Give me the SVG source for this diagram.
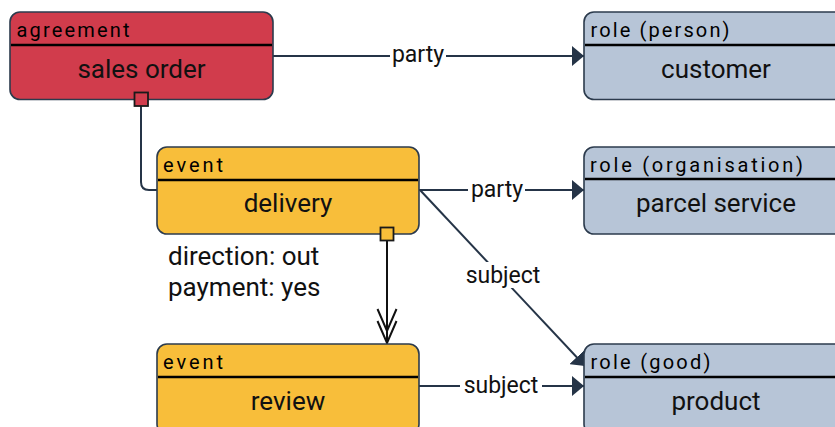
<svg xmlns="http://www.w3.org/2000/svg" width="835" height="427" viewBox="0 0 835 427">
  <style>
    .box { stroke: #2c3b4d; stroke-width: 1.6; }
    .agreement { fill: #d13c4c; }
    .event { fill: #f8be3a; }
    .role { fill: #b7c5d7; }
    .rule { stroke: #000; stroke-width: 2.5; }
    .kind { font-family: Roboto, "Liberation Sans", sans-serif; font-size: 20px; fill: #000; }
    .name { font-family: Roboto, "Liberation Sans", sans-serif; font-size: 26px; fill: #111; text-anchor: middle; }
    .attr { font-family: Roboto, "Liberation Sans", sans-serif; font-size: 26px; fill: #111; }
    .edge { stroke: #253447; stroke-width: 2; fill: none; }
    .elabel { font-family: Roboto, "Liberation Sans", sans-serif; font-size: 23px; fill: #111; text-anchor: middle; }
    .lblbg { fill: #fff; }
    .port { stroke: #1a1a1a; stroke-width: 1.8; }
  </style>
  <defs>
    <marker id="arrow" viewBox="0 0 12 20" refX="12" refY="10" markerWidth="12" markerHeight="20" markerUnits="userSpaceOnUse" orient="auto">
      <path d="M0,0 L12,10 L0,20 Z" fill="#253447"/>
    </marker>
  </defs>

  <!-- connectors -->
  <g id="connectors">
    <!-- sales order -> delivery (composition) -->
    <path class="edge" d="M141,106 V182 Q141,190 149,190 H157"/>
    <!-- sales order -> customer -->
    <line class="edge" x1="273" y1="56" x2="584" y2="56" marker-end="url(#arrow)"/>
    <!-- delivery -> parcel service -->
    <line class="edge" x1="419" y1="190" x2="584" y2="190" marker-end="url(#arrow)"/>
    <!-- delivery -> product -->
    <line class="edge" x1="420" y1="190" x2="585" y2="366" marker-end="url(#arrow)"/>
    <!-- review -> product -->
    <line class="edge" x1="419" y1="386" x2="584" y2="386" marker-end="url(#arrow)"/>
    <!-- delivery -> review -->
    <g stroke="#111" stroke-width="2" fill="none">
      <line x1="387" y1="240" x2="387" y2="343"/>
      <polyline points="377.5,309 387,331 396.5,309"/>
      <polyline points="377.5,321 387,343 396.5,321"/>
    </g>

    <!-- edge labels -->
    <rect class="lblbg" x="390" y="44" width="56" height="24"/>
    <text class="elabel" x="418" y="62">party</text>
    <rect class="lblbg" x="468" y="178" width="57" height="24"/>
    <text class="elabel" x="497" y="196.5">party</text>
    <rect class="lblbg" x="462" y="262" width="82" height="26"/>
    <text class="elabel" x="503" y="283">subject</text>
    <rect class="lblbg" x="460" y="374" width="82" height="24"/>
    <text class="elabel" x="501" y="392.5">subject</text>
  </g>

  <!-- nodes -->
  <g id="sales-order">
    <rect class="box agreement" x="10" y="12" width="263" height="87.5" rx="10"/>
    <line class="rule" x1="11" y1="45" x2="272" y2="45"/>
    <text class="kind" x="16.5" y="37" textLength="113" lengthAdjust="spacing">agreement</text>
    <text class="name" x="141.5" y="78">sales order</text>
    <rect class="port agreement" x="134.5" y="92.5" width="13.5" height="13.5"/>
  </g>

  <g id="customer">
    <rect class="box role" x="584" y="12" width="263" height="87.5" rx="10"/>
    <line class="rule" x1="585" y1="45" x2="846" y2="45"/>
    <text class="kind" x="590.5" y="37" textLength="139" lengthAdjust="spacing">role (person)</text>
    <text class="name" x="716" y="78">customer</text>
  </g>

  <g id="delivery">
    <rect class="box event" x="157" y="147" width="262" height="87" rx="10"/>
    <line class="rule" x1="158" y1="180" x2="418" y2="180"/>
    <text class="kind" x="163" y="172" textLength="60" lengthAdjust="spacing">event</text>
    <text class="name" x="288" y="212">delivery</text>
    <rect class="port event" x="380.5" y="227.5" width="13" height="13"/>
    <text class="attr" x="168" y="265">direction: out</text>
    <text class="attr" x="168" y="296">payment: yes</text>
  </g>

  <g id="parcel-service">
    <rect class="box role" x="584" y="147" width="263" height="87" rx="10"/>
    <line class="rule" x1="585" y1="179" x2="846" y2="179"/>
    <text class="kind" x="590" y="171.5" textLength="213" lengthAdjust="spacing">role (organisation)</text>
    <text class="name" x="716" y="212">parcel service</text>
  </g>

  <g id="review">
    <rect class="box event" x="157" y="344" width="262" height="90" rx="10"/>
    <line class="rule" x1="158" y1="377" x2="418" y2="377"/>
    <text class="kind" x="163" y="369" textLength="60" lengthAdjust="spacing">event</text>
    <text class="name" x="288" y="410">review</text>
  </g>

  <g id="product">
    <rect class="box role" x="584" y="344" width="263" height="90" rx="10"/>
    <line class="rule" x1="585" y1="377" x2="846" y2="377"/>
    <text class="kind" x="590.5" y="369" textLength="120" lengthAdjust="spacing">role (good)</text>
    <text class="name" x="716" y="410">product</text>
  </g>
</svg>
